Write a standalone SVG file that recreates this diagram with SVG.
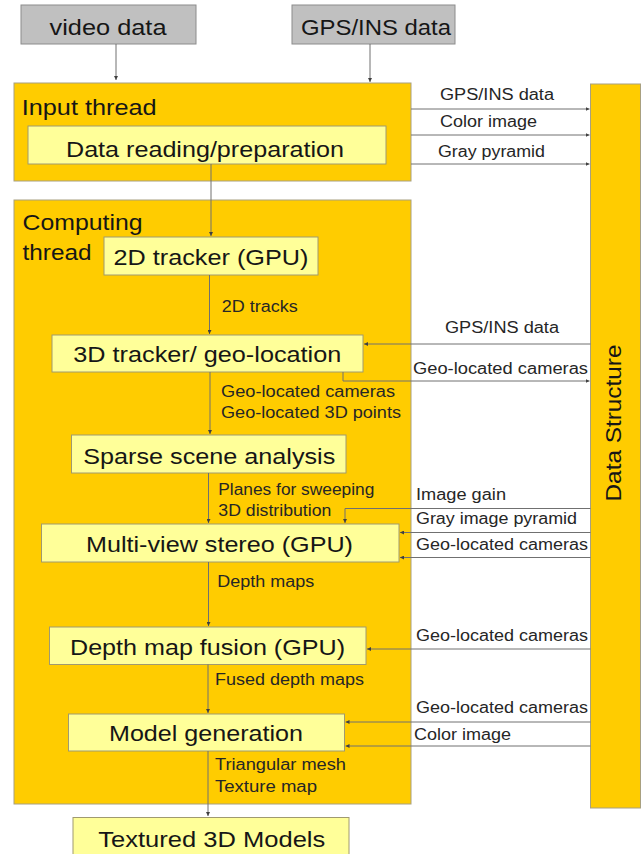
<svg xmlns="http://www.w3.org/2000/svg" width="643" height="854" viewBox="0 0 643 854">
<defs>
<style>
.src{fill:#c0c0c0;stroke:#8c8c8c;stroke-width:1}
.thr{fill:#ffcc00;stroke:#a8a080;stroke-width:1}
.box{fill:#ffff99;stroke:#a09a70;stroke-width:1}
.t{font-family:"Liberation Sans",Arial,sans-serif;fill:#161616}
.big{font-size:22px}
.hd{font-size:22.5px}
.lb{font-size:16px;fill:#262626}
.cn{fill:none;stroke:#707070;stroke-width:1}
</style>
<marker id="ah" viewBox="0 0 6 6" refX="6" refY="3" markerWidth="4" markerHeight="4" orient="auto"><path d="M0,0 L6,3 L0,6 z" fill="#404040"/></marker>
</defs>
<rect width="643" height="854" fill="#ffffff"/>
<g id="video-data"><rect class="src" x="21" y="5" width="175" height="39"/><text class="t big" x="49.5" y="34.5" textLength="117" lengthAdjust="spacingAndGlyphs">video data</text></g>
<g id="gps-ins-data"><rect class="src" x="292" y="5" width="163" height="39"/><text class="t big" x="301" y="34.5" textLength="150" lengthAdjust="spacingAndGlyphs">GPS/INS data</text></g>
<g id="input-thread"><rect class="thr" x="14" y="83" width="397" height="98"/><text class="t hd" x="21.7" y="114.5" textLength="135" lengthAdjust="spacingAndGlyphs">Input thread</text></g>
<g id="computing-thread"><rect class="thr" x="14" y="200" width="397" height="604"/><text class="t hd" x="22.5" y="229.5" textLength="120" lengthAdjust="spacingAndGlyphs">Computing</text><text class="t hd" x="22.5" y="259.5" textLength="69" lengthAdjust="spacingAndGlyphs">thread</text></g>
<g id="data-structure"><rect class="thr" x="590.5" y="84" width="50" height="724"/><text class="t big" font-size="23px" transform="translate(621 501.5) rotate(-90)" textLength="157" lengthAdjust="spacingAndGlyphs">Data Structure</text></g>
<g id="data-reading"><rect class="box" x="28" y="126" width="358" height="38"/><text class="t big" x="66" y="156.5" textLength="278" lengthAdjust="spacingAndGlyphs">Data reading/preparation</text></g>
<g id="tracker-2d"><rect class="box" x="104" y="237" width="214" height="38"/><text class="t big" x="113.5" y="265" textLength="195" lengthAdjust="spacingAndGlyphs">2D tracker (GPU)</text></g>
<g id="tracker-3d"><rect class="box" x="52" y="335" width="311" height="37"/><text class="t big" x="73.3" y="362" textLength="268" lengthAdjust="spacingAndGlyphs">3D tracker/ geo-location</text></g>
<g id="sparse"><rect class="box" x="71.5" y="435" width="274.5" height="38"/><text class="t big" x="83.3" y="463.5" textLength="252" lengthAdjust="spacingAndGlyphs">Sparse scene analysis</text></g>
<g id="mvs"><rect class="box" x="41.5" y="524" width="357.5" height="38"/><text class="t big" x="86" y="551.5" textLength="267" lengthAdjust="spacingAndGlyphs">Multi-view stereo (GPU)</text></g>
<g id="fusion"><rect class="box" x="49.5" y="627" width="316.5" height="37.5"/><text class="t big" x="70" y="655" textLength="275" lengthAdjust="spacingAndGlyphs">Depth map fusion (GPU)</text></g>
<g id="model-gen"><rect class="box" x="68.5" y="714" width="276" height="37"/><text class="t big" x="109" y="740.5" textLength="194" lengthAdjust="spacingAndGlyphs">Model generation</text></g>
<g id="textured"><rect class="box" x="73" y="817.5" width="276" height="45"/><text class="t big" x="98.3" y="846.5" textLength="227" lengthAdjust="spacingAndGlyphs">Textured 3D Models</text></g>
<g id="connectors">
<path class="cn" d="M116,44 V80" marker-end="url(#ah)"/>
<path class="cn" d="M370,44 V82" marker-end="url(#ah)"/>
<path class="cn" d="M211,164 V236" marker-end="url(#ah)"/>
<path class="cn" d="M209.5,275 V334" marker-end="url(#ah)"/>
<path class="cn" d="M210,372 V434" marker-end="url(#ah)"/>
<path class="cn" d="M208.5,473 V523" marker-end="url(#ah)"/>
<path class="cn" d="M208.5,562 V626" marker-end="url(#ah)"/>
<path class="cn" d="M208,664.5 V713" marker-end="url(#ah)"/>
<path class="cn" d="M208,751 V816" marker-end="url(#ah)"/>
<path class="cn" d="M411,109 H589.5" marker-end="url(#ah)"/>
<path class="cn" d="M411,135 H589.5" marker-end="url(#ah)"/>
<path class="cn" d="M411,164 H589.5" marker-end="url(#ah)"/>
<path class="cn" d="M590.5,344 H364" marker-end="url(#ah)"/>
<path class="cn" d="M343,372 V381 H589.5" marker-end="url(#ah)"/>
<path class="cn" d="M590.5,508.5 H345 V523" marker-end="url(#ah)"/>
<path class="cn" d="M590.5,532.5 H400" marker-end="url(#ah)"/>
<path class="cn" d="M590.5,557.5 H400" marker-end="url(#ah)"/>
<path class="cn" d="M590.5,649 H367" marker-end="url(#ah)"/>
<path class="cn" d="M590.5,722 H345.5" marker-end="url(#ah)"/>
<path class="cn" d="M590.5,746 H345.5" marker-end="url(#ah)"/>
<text class="t lb" x="440" y="100" textLength="114" lengthAdjust="spacingAndGlyphs">GPS/INS data</text>
<text class="t lb" x="440" y="127" textLength="97" lengthAdjust="spacingAndGlyphs">Color image</text>
<text class="t lb" x="438" y="157" textLength="107" lengthAdjust="spacingAndGlyphs">Gray pyramid</text>
<text class="t lb" x="221.7" y="311.5" textLength="76" lengthAdjust="spacingAndGlyphs">2D tracks</text>
<text class="t lb" x="445" y="333" textLength="114" lengthAdjust="spacingAndGlyphs">GPS/INS data</text>
<text class="t lb" x="413" y="374" textLength="175" lengthAdjust="spacingAndGlyphs">Geo-located cameras</text>
<text class="t lb" x="221" y="396.5" textLength="174" lengthAdjust="spacingAndGlyphs">Geo-located cameras</text>
<text class="t lb" x="221" y="418" textLength="180" lengthAdjust="spacingAndGlyphs">Geo-located 3D points</text>
<text class="t lb" x="218.3" y="495" textLength="156" lengthAdjust="spacingAndGlyphs">Planes for sweeping</text>
<text class="t lb" x="218.3" y="516" textLength="113" lengthAdjust="spacingAndGlyphs">3D distribution</text>
<text class="t lb" x="416" y="500" textLength="90" lengthAdjust="spacingAndGlyphs">Image gain</text>
<text class="t lb" x="416" y="524" textLength="161" lengthAdjust="spacingAndGlyphs">Gray image pyramid</text>
<text class="t lb" x="416" y="550" textLength="172" lengthAdjust="spacingAndGlyphs">Geo-located cameras</text>
<text class="t lb" x="217.3" y="587" textLength="97" lengthAdjust="spacingAndGlyphs">Depth maps</text>
<text class="t lb" x="416" y="641" textLength="172" lengthAdjust="spacingAndGlyphs">Geo-located cameras</text>
<text class="t lb" x="215" y="685" textLength="149" lengthAdjust="spacingAndGlyphs">Fused depth maps</text>
<text class="t lb" x="416" y="713" textLength="172" lengthAdjust="spacingAndGlyphs">Geo-located cameras</text>
<text class="t lb" x="414" y="740" textLength="97" lengthAdjust="spacingAndGlyphs">Color image</text>
<text class="t lb" x="215" y="770" textLength="131" lengthAdjust="spacingAndGlyphs">Triangular mesh</text>
<text class="t lb" x="215" y="791.5" textLength="102" lengthAdjust="spacingAndGlyphs">Texture map</text>
</g>
</svg>
